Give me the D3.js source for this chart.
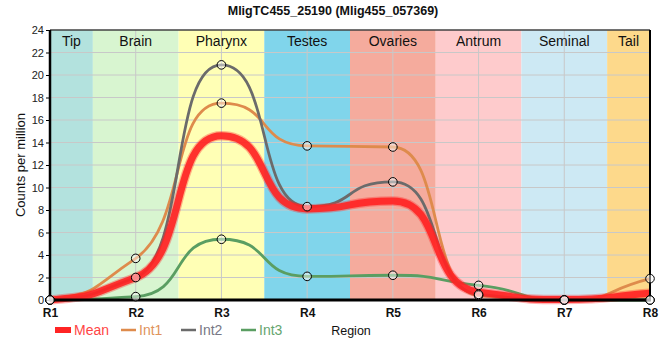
<!DOCTYPE html>
<html><head><meta charset="utf-8">
<script src="https://cdn.jsdelivr.net/npm/d3@7"></script>
<style>body{margin:0;background:#fff}svg{display:block;font-family:"Liberation Sans",Arial,sans-serif}</style>
</head><body><svg id="c" width="660" height="360"></svg>
<script>
const title = "MligTC455_25190 (Mlig455_057369)";
const regions = ["R1","R2","R3","R4","R5","R6","R7","R8"];
const bands = ["Tip","Brain","Pharynx","Testes","Ovaries","Antrum","Seminal","Tail"];
const bandColors = ["#b3e2de","#d8f5d0","#ffffb5","#80d5eb","#f5ab9d","#fecbcc","#cde9f4","#fdd98b"];
const yTicks = [0,2,4,6,8,10,12,14,16,18,20,22,24];
const meanVals = [0, 2.0, 14.6, 8.1, 8.8, 0.7, 0.05, 0.6];
const int1 = [0, 3.7, 17.5, 13.7, 13.6, 0.4, 0, 1.9];
const int2 = [0, 2.0, 20.9, 8.3, 10.5, 0.5, 0, 0];
const int3 = [0, 0.3, 5.4, 2.1, 2.2, 1.3, 0, 0];
const seriesNames = ["Mean","Int1","Int2","Int3"];
const seriesColors = ["#ff2424","#de8b4c","#6b6b6b","#5a9e62"];
const legendTextColors = ["#ff4545","#e0935c","#777785","#65a570"];

// smooth monotone curve (D3 curve interface) with softer plateaus
function softCurve(ctx){
  const A = 0.6, K = 0.7;
  let xs, ys;
  return {
    areaStart(){}, areaEnd(){},
    lineStart(){ xs=[]; ys=[]; },
    point(x,y){ xs.push(+x); ys.push(+y); },
    lineEnd(){
      const n = xs.length; if(!n) return;
      const s = [], m = new Array(n).fill(0);
      for(let i=0;i<n-1;i++) s.push((ys[i+1]-ys[i])/(xs[i+1]-xs[i]));
      for(let i=1;i<n-1;i++){
        const s0=s[i-1], s1=s[i];
        if(s0*s1<=0){ m[i]=0; continue; }
        const p=(s0+s1)/2;
        m[i]=(Math.sign(s0))*Math.min(Math.abs(s0),Math.abs(s1),0.5*Math.abs(p))*2;
      }
      if(n>1){ m[0]=(3*s[0]-m[1])/2; m[n-1]=(3*s[n-2]-m[n-2])/2;
        if(m[0]*s[0]<0) m[0]=0; if(m[n-1]*s[n-2]<0) m[n-1]=0; }
      ctx.moveTo(xs[0],ys[0]);
      for(let i=0;i<n-1;i++){
        const dx=xs[i+1]-xs[i];
        ctx.bezierCurveTo(xs[i]+A*dx, ys[i]+A*dx*m[i]*K, xs[i+1]-A*dx, ys[i+1]-A*dx*m[i+1]*K, xs[i+1], ys[i+1]);
      }
    }
  };
}

const svg = d3.select("#c");
const L = 50, R = 650, T = 30, B = 300;
const x = d3.scaleLinear().domain([0, regions.length-1]).range([L, R]);
const y = d3.scaleLinear().domain([0, 24]).range([B, T]);

const g = svg.append("g");
bands.forEach((b,i)=>{
  const x0 = Math.max(L, x(i-0.5)), x1 = Math.min(R, x(i+0.5));
  g.append("rect").attr("x",x0).attr("y",T).attr("width",x1-x0).attr("height",B-T).attr("fill",bandColors[i]);
});
yTicks.forEach(t=>{
  g.append("line").attr("x1",L).attr("x2",R).attr("y1",y(t)).attr("y2",y(t)).attr("stroke","#c8c8c8").attr("stroke-width",1);
});
regions.forEach((r,i)=>{
  g.append("line").attr("x1",x(i)).attr("x2",x(i)).attr("y1",T).attr("y2",B).attr("stroke","#c8c8c8").attr("stroke-width",1);
});
bands.forEach((b,i)=>{
  const x0 = Math.max(L, x(i-0.5)), x1 = Math.min(R, x(i+0.5));
  svg.append("text").attr("x",(x0+x1)/2).attr("y",46).attr("text-anchor","middle")
    .attr("font-size",14).attr("fill","#111").text(b);
});

const line = d3.line().x((d,i)=>x(i)).y(d=>y(d)).curve(softCurve);
const ints = [int1,int2,int3];
ints.forEach((s,k)=>{
  svg.append("path").attr("d",line(s)).attr("fill","none").attr("stroke",seriesColors[k+1]).attr("stroke-width",2.8);
});
svg.append("path").attr("d",line(meanVals)).attr("fill","none").attr("stroke",seriesColors[0]).attr("stroke-width",9.5).attr("stroke-opacity",0.35);
svg.append("path").attr("d",line(meanVals)).attr("fill","none").attr("stroke",seriesColors[0]).attr("stroke-width",7).attr("stroke-opacity",0.9);

const yAxis = d3.axisLeft(y).tickValues(yTicks).tickSize(4).tickPadding(2);
const ya = svg.append("g").attr("transform",`translate(${L},0)`).call(yAxis);
ya.select(".domain").remove();
ya.selectAll("text").attr("font-size",11).attr("fill","#222").attr("font-family","Liberation Sans, Arial, sans-serif");
ya.selectAll("line").attr("stroke","#000");
const xAxis = d3.axisBottom(x).tickValues(d3.range(regions.length)).tickFormat(i=>regions[i]).tickSize(0).tickPadding(8);
const xa = svg.append("g").attr("transform",`translate(0,${B})`).call(xAxis);
xa.select(".domain").remove();
xa.selectAll("text").attr("font-size",12).attr("font-weight","bold").attr("fill","#111").attr("font-family","Liberation Sans, Arial, sans-serif");

svg.append("line").attr("x1",L).attr("x2",R).attr("y1",T).attr("y2",T).attr("stroke","#000").attr("stroke-width",1);
svg.append("line").attr("x1",R).attr("x2",R).attr("y1",T).attr("y2",B).attr("stroke","#000").attr("stroke-width",2);
svg.append("line").attr("x1",L).attr("x2",L).attr("y1",T).attr("y2",B+1.5).attr("stroke","#000").attr("stroke-width",2.5);
svg.append("line").attr("x1",L).attr("x2",R+1).attr("y1",B).attr("y2",B).attr("stroke","#000").attr("stroke-width",3);

ints.forEach((s,k)=>{
  svg.append("g").selectAll("circle").data(s).join("circle")
    .attr("cx",(d,i)=>x(i)).attr("cy",d=>y(d)).attr("r",4.3)
    .attr("fill","rgba(255,255,255,0.45)").attr("stroke","#000").attr("stroke-width",1);
});

svg.append("text").attr("x",333).attr("y",15).attr("text-anchor","middle").attr("font-size",12.5).attr("font-weight","bold").attr("fill","#111").text(title);
svg.append("text").attr("transform","translate(25,165) rotate(-90)").attr("text-anchor","middle").attr("font-size",13).attr("fill","#111").text("Counts per million");
svg.append("text").attr("x",351).attr("y",335).attr("text-anchor","middle").attr("font-size",12.5).attr("fill","#111").text("Region");

const lx = [55, 121, 181, 241];
seriesNames.forEach((n,k)=>{
  if(k===0){
    svg.append("rect").attr("x",lx[k]).attr("y",327).attr("width",16).attr("height",6).attr("fill",seriesColors[0]);
  } else {
    svg.append("line").attr("x1",lx[k]).attr("x2",lx[k]+15).attr("y1",330).attr("y2",330).attr("stroke",seriesColors[k]).attr("stroke-width",2.5);
  }
  svg.append("text").attr("x",lx[k]+(k===0?19:18)).attr("y",335).attr("font-size",14).attr("fill",legendTextColors[k]).text(n);
});
</script></body></html>
